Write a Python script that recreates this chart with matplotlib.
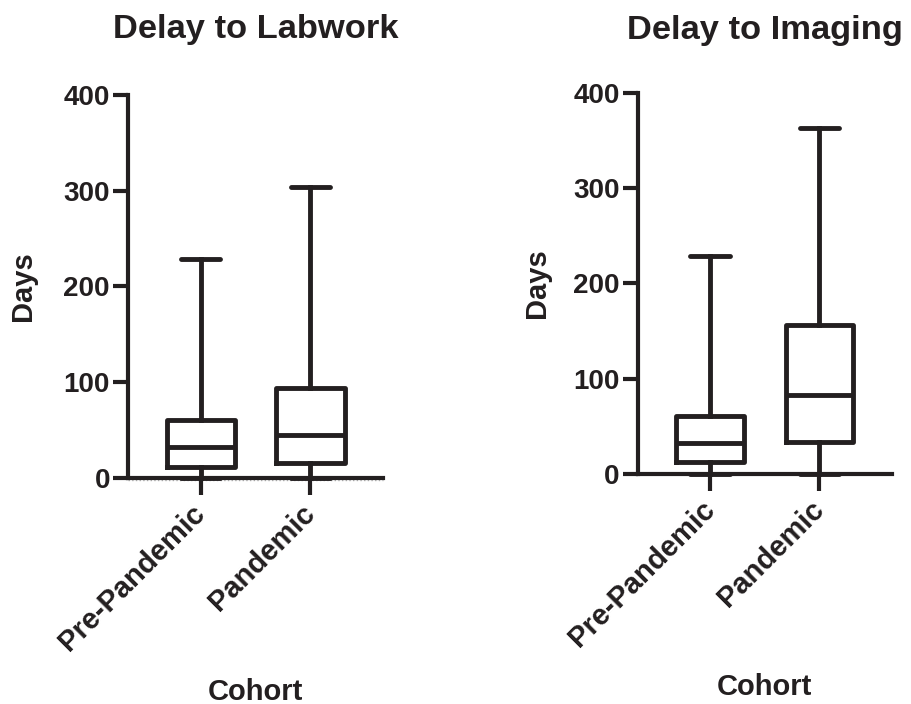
import matplotlib
matplotlib.use("Agg")
import matplotlib.pyplot as plt

plt.rcParams['font.family'] = ['Liberation Sans', 'DejaVu Sans']
plt.rcParams['font.weight'] = 'bold'

INK = '#231f20'

cohorts = ['Pre-Pandemic', 'Pandemic']

# box summary values (days)
lab_min = [0, 0]
lab_q1 = [11.5, 15.7]
lab_med = [31.8, 44.6]
lab_q3 = [60.3, 93.4]
lab_max = [229, 304]

img_min = [0, 0]
img_q1 = [12.9, 33.9]
img_med = [32.2, 82.9]
img_q3 = [61.2, 156.3]
img_max = [229, 363]

y_ticks = [0, 100, 200, 300, 400]


def make_stats(mins, q1s, meds, q3s, maxs):
    stats = []
    for i in range(len(cohorts)):
        stats.append({'whislo': mins[i], 'q1': q1s[i], 'med': meds[i],
                      'q3': q3s[i], 'whishi': maxs[i], 'fliers': []})
    return stats


def draw_panel(ax, stats, title, title_pad, ylab_x):
    line = dict(color=INK, linewidth=3.5)
    ax.bxp(stats, positions=[1, 2], widths=0.62, capwidths=0.36,
           showfliers=False, boxprops=line, medianprops=line,
           whiskerprops=line,
           capprops=dict(color=INK, linewidth=3.5, solid_capstyle='round'))
    for art in ax.lines:
        art.set_clip_on(False)

    ax.set_xlim(0.339, 2.66)
    ax.set_ylim(0, 400)
    ax.set_yticks(y_ticks)
    ax.set_xticks([1, 2])
    ax.set_xticklabels(cohorts, rotation=45, ha='right', va='center',
                       rotation_mode='anchor')

    for side in ['top', 'right']:
        ax.spines[side].set_visible(False)
    for side in ['left', 'bottom']:
        ax.spines[side].set_linewidth(3)
        ax.spines[side].set_color(INK)

    ax.tick_params(axis='y', length=11, width=3, color=INK, labelsize=20,
                   pad=2, labelcolor=INK)
    ax.tick_params(axis='x', length=12.5, width=3, color=INK, labelsize=21,
                   pad=10, labelcolor=INK)

    ax.set_title(title, fontsize=24.8, fontweight='bold', color=INK,
                 pad=title_pad)
    ax.set_ylabel('Days', fontsize=21, fontweight='bold', color=INK)
    ax.set_xlabel('Cohort', fontsize=21, fontweight='bold', color=INK)
    ax.yaxis.set_label_coords(ylab_x, 0.5)
    ax.xaxis.set_label_coords(0.5, -0.522)


fig = plt.figure(figsize=(9.11, 7.04), dpi=100)
ax1 = fig.add_axes([0.1405, 0.3214, 0.2799, 0.5436])
ax2 = fig.add_axes([0.700, 0.3267, 0.2788, 0.5416])

draw_panel(ax1, make_stats(lab_min, lab_q1, lab_med, lab_q3, lab_max),
           'Delay to Labwork', 41, -0.357)
draw_panel(ax2, make_stats(img_min, img_q1, img_med, img_q3, img_max),
           'Delay to Imaging', 38.5, -0.34)

# faint dotted baseline under the left panel
ax1.axhline(-2, color='#b0b0b0', linestyle=':', linewidth=1, clip_on=False,
            zorder=0)

fig.savefig('out.png', dpi=100)
